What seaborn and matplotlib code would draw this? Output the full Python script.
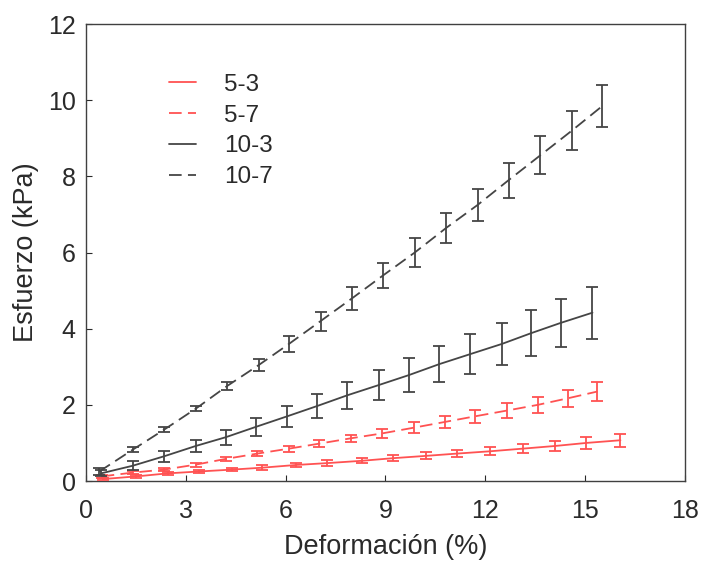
import numpy as np
import pandas as pd
import matplotlib
matplotlib.use("Agg")
import matplotlib.pyplot as plt
import seaborn as sns

# ---- data ----
x_53 = [0.5, 1.5, 2.45, 3.4, 4.4, 5.3, 6.3, 7.25, 8.28, 9.24, 10.22, 11.15, 12.14, 13.13, 14.1, 15.04, 16.06]
y_53 = [0.05, 0.12, 0.2, 0.25, 0.3, 0.35, 0.42, 0.47, 0.53, 0.6, 0.66, 0.72, 0.78, 0.85, 0.92, 1.0, 1.07]
e_53 = [0.03, 0.04, 0.04, 0.05, 0.05, 0.06, 0.06, 0.07, 0.07, 0.08, 0.09, 0.1, 0.11, 0.12, 0.13, 0.15, 0.17]

x_57 = [0.47, 1.4, 2.35, 3.3, 4.2, 5.15, 6.1, 7.0, 7.95, 8.9, 9.85, 10.78, 11.7, 12.65, 13.58, 14.47, 15.37]
y_57 = [0.12, 0.22, 0.3, 0.43, 0.58, 0.72, 0.85, 0.98, 1.12, 1.25, 1.4, 1.55, 1.7, 1.85, 2.0, 2.17, 2.35]
e_57 = [0.04, 0.04, 0.05, 0.05, 0.06, 0.07, 0.08, 0.09, 0.1, 0.12, 0.14, 0.15, 0.17, 0.19, 0.21, 0.23, 0.26]

x_103 = [0.45, 1.4, 2.35, 3.3, 4.2, 5.1, 6.05, 6.95, 7.85, 8.8, 9.7, 10.62, 11.54, 12.5, 13.37, 14.26, 15.22]
y_103 = [0.2, 0.4, 0.65, 0.92, 1.15, 1.42, 1.7, 1.97, 2.25, 2.52, 2.78, 3.07, 3.33, 3.6, 3.88, 4.15, 4.42]
e_103 = [0.08, 0.12, 0.14, 0.16, 0.2, 0.24, 0.28, 0.32, 0.36, 0.4, 0.44, 0.48, 0.52, 0.56, 0.6, 0.64, 0.68]

x_107 = [0.4, 1.4, 2.35, 3.3, 4.25, 5.2, 6.1, 7.05, 8.0, 8.93, 9.88, 10.83, 11.77, 12.7, 13.65, 14.6, 15.52]
y_107 = [0.25, 0.82, 1.35, 1.9, 2.5, 3.05, 3.6, 4.2, 4.8, 5.4, 6.0, 6.65, 7.25, 7.9, 8.55, 9.2, 9.85]
e_107 = [0.1, 0.07, 0.07, 0.06, 0.1, 0.15, 0.2, 0.25, 0.3, 0.33, 0.38, 0.4, 0.43, 0.46, 0.5, 0.52, 0.56]

series = ["5-3", "5-7", "10-3", "10-7"]
xticks = [0, 3, 6, 9, 12, 15, 18]
yticks = [0, 2, 4, 6, 8, 10, 12]

RED = "#ff5252"
GRAY = "#454545"
TXT = "#2a2a2a"
colors = {"5-3": RED, "5-7": RED, "10-3": GRAY, "10-7": GRAY}
dashes = {"5-3": "", "5-7": (7, 3.5), "10-3": "", "10-7": (7, 3.5)}

frames = []
for name, xs, ys, es in [("5-3", x_53, y_53, e_53), ("5-7", x_57, y_57, e_57),
                         ("10-3", x_103, y_103, e_103), ("10-7", x_107, y_107, e_107)]:
    frames.append(pd.DataFrame({"x": xs, "y": ys, "err": es, "serie": name}))
df = pd.concat(frames, ignore_index=True)

sns.set_style("white")
plt.rcParams["font.family"] = ["Liberation Sans", "DejaVu Sans"]

fig = plt.figure(figsize=(7.05, 5.61), dpi=100)
ax = fig.add_axes([0.122, 0.1426, 0.8496, 0.8146])

sns.lineplot(data=df, x="x", y="y", hue="serie", style="serie",
             hue_order=series, style_order=series,
             palette=colors, dashes=dashes, linewidth=1.3, ax=ax,
             estimator=None, sort=False)

for name in series:
    d = df[df["serie"] == name]
    ax.errorbar(d["x"], d["y"], yerr=d["err"], fmt="none", ecolor=colors[name],
                elinewidth=1.3, capsize=4.5, capthick=1.3, zorder=3)

ax.set_xlim(0, 18)
ax.set_ylim(0, 12)
ax.set_xticks(xticks)
ax.set_yticks(yticks)
ax.tick_params(direction="in", length=4, labelsize=18, colors=TXT,
               top=False, right=False, bottom=True, left=True)
ax.tick_params(axis="x", pad=13)
ax.tick_params(axis="y", pad=7.5)
ax.set_xlabel("Deformación (%)", fontsize=19.5, color=TXT, labelpad=8)
ax.set_ylabel("Esfuerzo (kPa)", fontsize=19.5, color=TXT, labelpad=6)
for sp in ax.spines.values():
    sp.set_color("#404040")
    sp.set_linewidth(1.0)

leg = ax.legend(loc="upper left", bbox_to_anchor=(0.102, 0.939), frameon=False,
                fontsize=17.5, handlelength=1.1, handletextpad=1.15, labelspacing=0.36)
leg.set_title(None)
for t in leg.get_texts():
    t.set_color(TXT)

fig.savefig("out.png", dpi=100)
